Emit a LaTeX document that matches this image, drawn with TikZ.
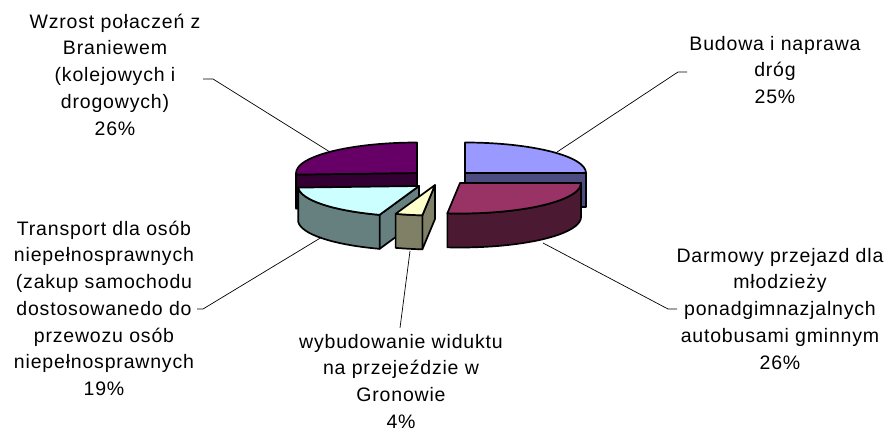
\documentclass[tikz,border=0pt]{standalone}
\usepackage{fontspec}
\newfontfamily\lab[LetterSpace=4.2]{Liberation Sans}
\definecolor{bluetop}{HTML}{9999FF}
\definecolor{blueside}{HTML}{4C4C80}
\definecolor{redtop}{HTML}{993366}
\definecolor{redside}{HTML}{4C1933}
\definecolor{yeltop}{HTML}{FFFFCC}
\definecolor{yelside}{HTML}{808066}
\definecolor{cyantop}{HTML}{CCFFFF}
\definecolor{cyanside}{HTML}{668080}
\definecolor{purtop}{HTML}{660066}
\definecolor{purside}{HTML}{330033}
\tikzset{
  face/.style={draw=black, line width=1.7pt, line join=round},
  leader/.style={draw=black, line width=0.7pt},
  lbl/.style={font={\lab\fontsize{19.5}{26.7}\selectfont}, align=center, inner sep=0pt, anchor=north},
}
\newcommand\rx{121}
\newcommand\ry{30.5}
\newcommand\dep{34}
% top face: center, start, end, colour
\newcommand\topface[4]{%
  \path[face, fill=#4] (#1) -- ([shift={(#2:\rx\space and \ry)}]#1)
    arc[start angle=#2, end angle=#3, x radius=\rx, y radius=\ry] -- cycle;}
% outer wall
\newcommand\wall[4]{%
  \path[face, fill=#4] ([shift={(#2:\rx\space and \ry)}]#1)
    arc[start angle=#2, end angle=#3, x radius=\rx, y radius=\ry]
    -- ++(0,\dep)
    arc[start angle=#3, end angle=#2, x radius=\rx, y radius=\ry] -- cycle;}
% cut face
\newcommand\cut[3]{%
  \path[face, fill=#3] (#1) -- ([shift={(#2:\rx\space and \ry)}]#1)
    -- ++(0,\dep) -- ([shift={(0,\dep)}]#1) -- cycle;}
\begin{document}
\begin{tikzpicture}[x=1pt,y=-1pt]
\useasboundingbox (0,0) rectangle (889,432);
\fill[white] (0,0) rectangle (889,432);
% slice centres
\coordinate (cB) at (465,173);
\coordinate (cD) at (460,183);
\coordinate (cW) at (435,185);
\coordinate (cT) at (419,186);
\coordinate (cZ) at (417,173);
% back slices
\cut{cB}{0}{blueside}
\topface{cB}{-90}{0}{bluetop}
\cut{cZ}{177}{purside}
\wall{cZ}{177}{180}{purside}
\topface{cZ}{177}{270}{purtop}
% front slices
\cut{cT}{109}{cyanside}
\wall{cT}{109}{177}{cyanside}
\topface{cT}{109}{177}{cyantop}
\cut{cW}{96}{yelside}
\wall{cW}{96}{109}{yelside}
\topface{cW}{96}{109}{yeltop}
\wall{cD}{0}{96}{redside}
\topface{cD}{0}{96}{redtop}
% labels
\begin{scope}
\clip (20,0) rectangle (206,150);
\node[lbl] (lZ) at (115,8) {\rule{0pt}{20pt}Wzrost połaczeń z\\Braniewem\\(kolejowych i\\drogowych)\\26\%};
\end{scope}
\node[lbl] (lB) at (775,30) {\rule{0pt}{20pt}Budowa i naprawa\\dróg\\25\%};
\node[lbl] (lD) at (780,242) {\rule{0pt}{20pt}Darmowy przejazd dla\\młodzieży\\ponadgimnazjalnych\\autobusami gminnym\\26\%};
\node[lbl] (lW) at (401,328) {\rule{0pt}{20pt}wybudowanie widuktu\\na przejeździe w\\Gronowie\\4\%};
\begin{scope}
\clip (8,200) rectangle (196,420);
\node[lbl] (lT) at (104,215) {\rule{0pt}{20pt}Transport dla osób\\niepełnosprawnych\\(zakup samochodu\\dostosowanedo do\\przewozu osób\\niepełnosprawnych\\19\%};
\end{scope}
% leader lines
\coordinate (aZ) at (203,79);  \coordinate (pZ) at (330,152);
\coordinate (aB) at (687,72);  \coordinate (pB) at (557,152);
\coordinate (aD) at (677,309); \coordinate (pD) at (543,243);
\coordinate (aW) at (400,328); \coordinate (pW) at (410,251);
\coordinate (aT) at (197,309); \coordinate (pT) at (322,237);
\draw[leader] (aZ) -- ++(10,0) -- (pZ);
\draw[leader] (aB) -- ++(-9,0) -- (pB);
\draw[leader] (aD) -- ++(-9,0) -- (pD);
\draw[leader] (aW) -- (pW);
\draw[leader] (aT) -- ++(6,0) -- (pT);
\end{tikzpicture}
\end{document}
